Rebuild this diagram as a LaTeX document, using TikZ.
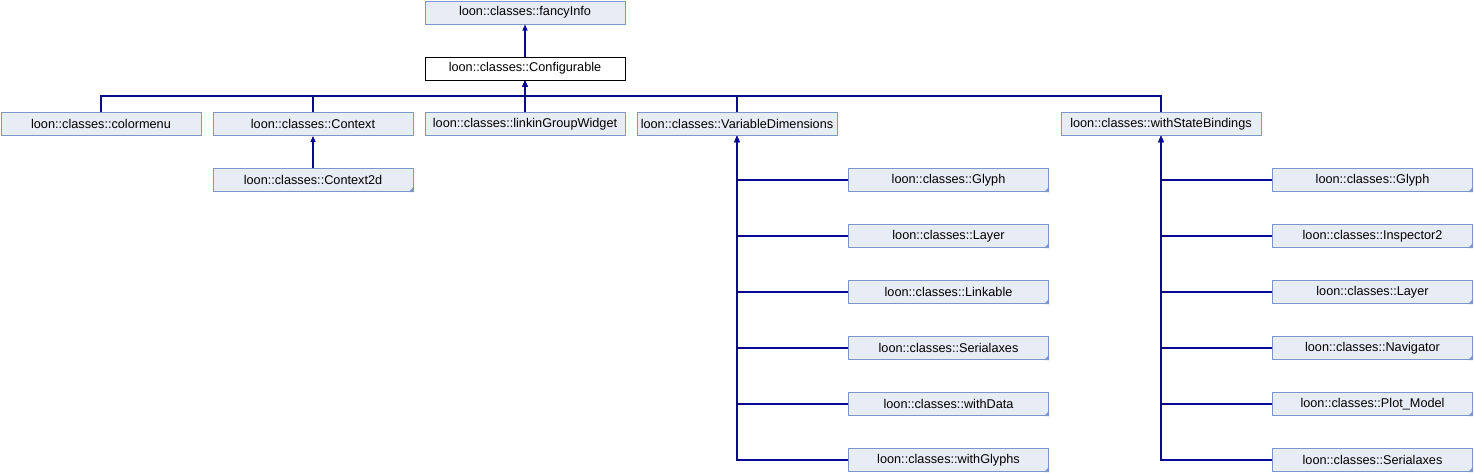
\documentclass[tikz,border=0pt]{standalone}
\usepackage{fontspec}
\setmainfont{Liberation Sans}
\usetikzlibrary{arrows.meta}
\definecolor{edgecol}{RGB}{8,8,145}
\definecolor{boxfill}{RGB}{232,236,244}
\definecolor{boxdraw}{RGB}{122,150,204}
\begin{document}
\begin{tikzpicture}[x=1pt,y=-1pt,
  cls/.style={draw=boxdraw,fill=boxfill,line width=1pt,minimum width=200pt,minimum height=23pt,inner sep=0pt,font=\fontsize{12.7}{14}\selectfont,text=black},
  cur/.style={draw=black,fill=white,line width=1pt,minimum width=200pt,minimum height=23pt,inner sep=0pt,font=\fontsize{12.7}{14}\selectfont,text=black},
  inh/.style={draw=edgecol,line width=1.1pt,-{Triangle[length=6pt,width=5pt]}}]
\useasboundingbox (0,0) rectangle (1474,472);
% nodes
\node[cls] (fi) at (525,12.5) {loon::classes::fancyInfo};
\node[cur] (conf) at (525,68.5) {loon::classes::Configurable};
\node[cls] (cm) at (101,124) {loon::classes::colormenu};
\node[cls] (ctx) at (313,124) {loon::classes::Context};
\node[cls] (lgw) at (525,124) {loon::classes::linkinGroupWidget};
\node[cls] (vd) at (737,124) {loon::classes::VariableDimensions};
\node[cls] (wsb) at (1161,124) {loon::classes::withStateBindings};
\node[cls] (ctx2) at (313,180) {loon::classes::Context2d};
\node[cls] (vd1) at (948.5,180) {loon::classes::Glyph};
\node[cls] (vd2) at (948.5,236) {loon::classes::Layer};
\node[cls] (vd3) at (948.5,292) {loon::classes::Linkable};
\node[cls] (vd4) at (948.5,348) {loon::classes::Serialaxes};
\node[cls] (vd5) at (948.5,404) {loon::classes::withData};
\node[cls] (vd6) at (948.5,460) {loon::classes::withGlyphs};
\node[cls] (ws1) at (1372.5,180) {loon::classes::Glyph};
\node[cls] (ws2) at (1372.5,236) {loon::classes::Inspector2};
\node[cls] (ws3) at (1372.5,292) {loon::classes::Layer};
\node[cls] (ws4) at (1372.5,348) {loon::classes::Navigator};
\node[cls] (ws5) at (1372.5,404) {loon::classes::Plot\_Model};
\node[cls] (ws6) at (1372.5,460) {loon::classes::Serialaxes};
% folded corner marks
\foreach \n in {ctx2,vd1,vd2,vd3,vd4,vd5,vd6,ws1,ws2,ws3,ws4,ws5,ws6}
  \fill[boxdraw] (\n.south east) -- ++(-5,0) -- ++(5,-5) -- cycle;
% edges
\draw[inh] (conf.north) -- (fi.south);
\foreach \n in {cm,ctx,lgw,vd,wsb}
  \draw[inh] (\n.north) -- ++(0,-16) -| (conf.south);
\draw[inh] (ctx2.north) -- (ctx.south);
\foreach \n in {vd1,vd2,vd3,vd4,vd5,vd6}
  \draw[inh] (\n.west) -| (vd.south);
\foreach \n in {ws1,ws2,ws3,ws4,ws5,ws6}
  \draw[inh] (\n.west) -| (wsb.south);
\end{tikzpicture}
\end{document}
